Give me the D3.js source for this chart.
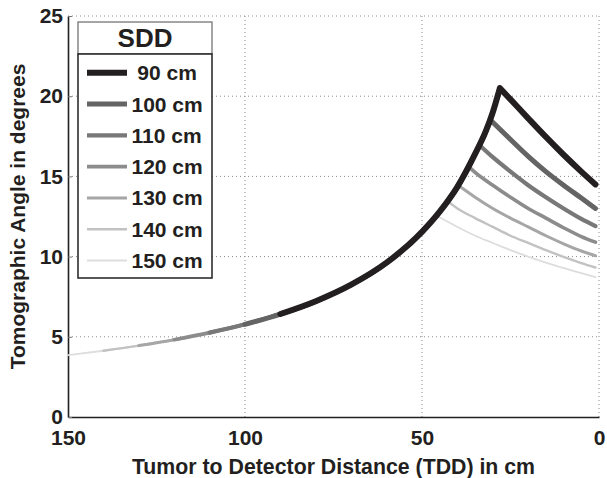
<!DOCTYPE html>
<html lang="en">
<head>
  <meta charset="UTF-8">
  <title>Tomographic angle vs TDD</title>
  <style>
    body { margin: 0; background: #fff; }
    text { font-family: "Liberation Sans", Arial, Helvetica, sans-serif; font-weight: bold; fill: #231f20; }
  </style>
</head>
<body>
  <div id="chart"></div>
  <script src="https://cdnjs.cloudflare.com/ajax/libs/d3/7.8.5/d3.min.js"></script>
  <script>
    // SDD values (cm), one curve each
    var sdd = [90, 100, 110, 120, 130, 140, 150];
    var sddLabels = [' 90 cm', '100 cm', '110 cm', '120 cm', '130 cm', '140 cm', '150 cm'];

    // shared rising part (TDD in cm, angle in degrees)
    var riseTdd   = [150, 140, 130, 120, 110, 100, 90, 80, 70, 60, 50, 45, 40, 35, 32, 30];
    var riseAngle = [3.85, 4.13, 4.45, 4.82, 5.26, 5.78, 6.42, 7.22, 8.25, 9.62, 11.54, 12.8, 14.35, 16.4, 17.8, 19.0];

    // peak then falling part for each SDD, [TDD, angle]
    var fall90  = [[28, 20.5], [25, 19.8], [20, 18.62], [15, 17.46], [10, 16.35], [5, 15.3], [1, 14.5]];
    var fall100 = [[30.6, 18.5], [25, 17.3], [20, 16.25], [15, 15.3], [10, 14.45], [5, 13.65], [1, 13.0]];
    var fall110 = [[33.5, 16.9], [30, 16.2], [25, 15.3], [20, 14.45], [15, 13.7], [10, 13.0], [5, 12.35], [1, 11.9]];
    var fall120 = [[36.5, 15.55], [35, 15.25], [30, 14.45], [25, 13.7], [20, 13.0], [15, 12.4], [10, 11.8], [5, 11.25], [1, 10.9]];
    var fall130 = [[39.5, 14.4], [35, 13.7], [30, 13.0], [25, 12.4], [20, 11.85], [15, 11.3], [10, 10.8], [5, 10.35], [1, 10.05]];
    var fall140 = [[42.5, 13.4], [40, 13.0], [35, 12.4], [30, 11.85], [25, 11.3], [20, 10.85], [15, 10.4], [10, 9.98], [5, 9.6], [1, 9.32]];
    var fall150 = [[45.5, 12.5], [40, 11.85], [35, 11.3], [30, 10.85], [25, 10.4], [20, 10.0], [15, 9.62], [10, 9.28], [5, 8.97], [1, 8.72]];
    var falls = [fall90, fall100, fall110, fall120, fall130, fall140, fall150];

    var xTicks = [150, 100, 50, 0];
    var yTicks = [0, 5, 10, 15, 20, 25];

    // styles per curve
    var colors = ['#231f20', '#646464', '#787878', '#8c8c8c', '#a6a6a6', '#c2c2c2', '#dddddd'];
    var widths = [6, 5, 4.2, 3.6, 3, 2.4, 1.8];

    var width = 607, height = 478;
    var margin = {top: 16, right: 8, bottom: 61, left: 68};

    var svg = d3.select('#chart').append('svg')
      .attr('width', width)
      .attr('height', height);

    var x = d3.scaleLinear().domain([150, 0]).range([margin.left, width - margin.right]);
    var y = d3.scaleLinear().domain([0, 25]).range([height - margin.bottom, margin.top]);

    // dotted grid
    var grid = svg.append('g')
      .attr('stroke', '#8a8a8a')
      .attr('stroke-width', 1)
      .attr('stroke-dasharray', '1,3');
    grid.selectAll('line.gx').data(xTicks.filter(function(d) { return d !== 150; }))
      .enter().append('line')
      .attr('x1', function(d) { return x(d); }).attr('x2', function(d) { return x(d); })
      .attr('y1', y(0)).attr('y2', y(25));
    grid.selectAll('line.gy').data(yTicks.filter(function(d) { return d !== 0; }))
      .enter().append('line')
      .attr('x1', x(150)).attr('x2', x(0))
      .attr('y1', function(d) { return y(d); }).attr('y2', function(d) { return y(d); });

    // axes
    var xAxis = svg.append('g')
      .attr('transform', 'translate(0,' + y(0) + ')')
      .call(d3.axisBottom(x).tickValues(xTicks).tickSize(0).tickPadding(13.5));
    var yAxis = svg.append('g')
      .attr('transform', 'translate(' + x(150) + ',0)')
      .call(d3.axisLeft(y).tickValues(yTicks).tickSize(0).tickPadding(5));
    [xAxis, yAxis].forEach(function(a) {
      a.select('.domain').attr('stroke', '#231f20').attr('stroke-width', 1.6);
      a.selectAll('text').attr('font-size', 21).attr('font-family', null).attr('fill', '#231f20');
    });
    // small inner ticks on the y axis
    yAxis.selectAll('.tick').append('line')
      .attr('x2', 4).attr('stroke', '#777').attr('stroke-width', 1);

    // curves
    var line = d3.line()
      .x(function(d) { return x(d[0]); })
      .y(function(d) { return y(d[1]); })
      .curve(d3.curveMonotoneX);

    var series = sdd.map(function(s, i) {
      var peak = falls[i][0];
      var rise = [];
      riseTdd.forEach(function(t, j) {
        if (t <= s && t > peak[0]) rise.push([t, riseAngle[j]]);
      });
      rise.push(peak);
      return {rise: rise, fall: falls[i], i: i};
    });

    var curves = svg.append('g')
      .attr('fill', 'none')
      .attr('stroke-linecap', 'round')
      .attr('stroke-linejoin', 'round');
    curves.selectAll('path')
      .data(series.slice().reverse())
      .enter().append('path')
      .attr('d', function(d) { return line(d.rise) + line(d.fall); })
      .attr('stroke', function(d) { return colors[d.i]; })
      .attr('stroke-width', function(d) { return widths[d.i]; });

    // axis titles
    svg.append('text')
      .attr('x', (x(150) + x(0)) / 2)
      .attr('y', 474)
      .attr('text-anchor', 'middle')
      .attr('font-size', 21.3)
      .text('Tumor to Detector Distance (TDD) in cm');
    svg.append('text')
      .attr('transform', 'translate(25,' + ((y(0) + y(25)) / 2) + ') rotate(-90)')
      .attr('text-anchor', 'middle')
      .attr('font-size', 21)
      .text('Tomographic Angle in degrees');

    // legend
    var lg = svg.append('g');
    lg.append('rect')
      .attr('x', 78).attr('y', 22).attr('width', 134).attr('height', 32)
      .attr('fill', '#fff').attr('stroke', '#6a6a6a').attr('stroke-width', 1.2);
    lg.append('rect')
      .attr('x', 78).attr('y', 54).attr('width', 134).attr('height', 224)
      .attr('fill', '#fff').attr('stroke', '#231f20').attr('stroke-width', 1.5);
    lg.append('text')
      .attr('x', 145).attr('y', 47)
      .attr('text-anchor', 'middle')
      .attr('font-size', 26)
      .text('SDD');
    var rows = lg.selectAll('g.row').data(sdd)
      .enter().append('g')
      .attr('transform', function(d, i) { return 'translate(0,' + (72.7 + i * 31.3) + ')'; });
    rows.append('line')
      .attr('x1', 87).attr('x2', 127)
      .attr('stroke', function(d, i) { return colors[i]; })
      .attr('stroke-width', function(d, i) { return widths[i]; });
    rows.append('text')
      .attr('x', 131.5).attr('dy', '0.36em')
      .attr('font-size', 21)
      .style('white-space', 'pre')
      .text(function(d, i) { return sddLabels[i]; });
  </script>
</body>
</html>
